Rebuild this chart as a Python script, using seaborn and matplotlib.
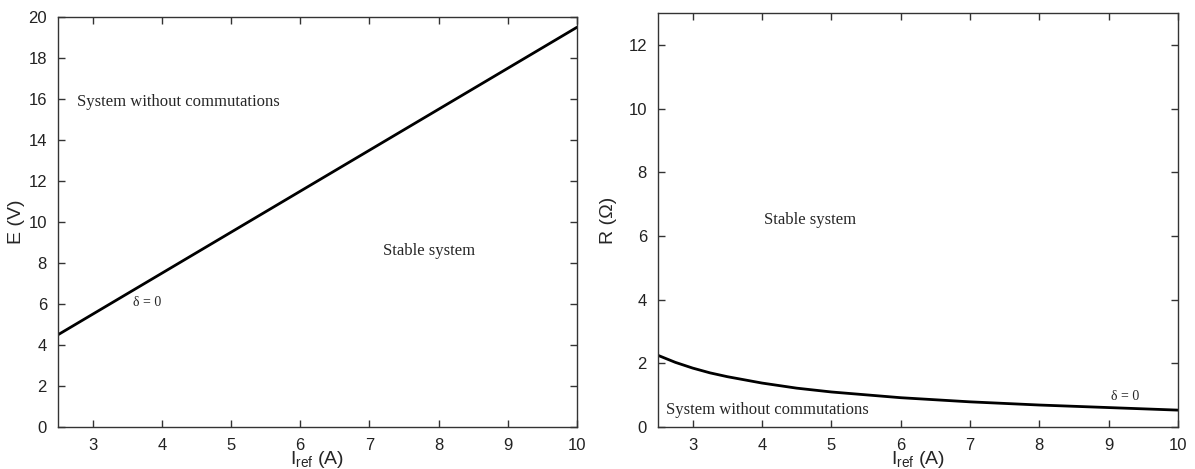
import pandas as pd
import matplotlib.pyplot as plt
import seaborn as sns

sns.set_style("ticks")
plt.rcParams['font.family'] = ['Liberation Sans', 'DejaVu Sans']
plt.rcParams['mathtext.fontset'] = 'custom'
plt.rcParams['mathtext.rm'] = 'Liberation Sans'
plt.rcParams['mathtext.it'] = 'Liberation Sans'

# ---- data ----
i_ref = [2.5, 2.75, 3, 3.25, 3.5, 4, 4.5, 5, 6, 7, 8, 9, 10]
e_volt = [4.5, 5.0, 5.5, 6.0, 6.5, 7.5, 8.5, 9.5, 11.5, 13.5, 15.5, 17.5, 19.5]
r_ohm = [2.25, 2.03, 1.85, 1.70, 1.58, 1.38, 1.22, 1.1, 0.92, 0.79, 0.69, 0.61, 0.53]
x_ticks = [3, 4, 5, 6, 7, 8, 9, 10]
e_ticks = [0, 2, 4, 6, 8, 10, 12, 14, 16, 18, 20]
r_ticks = [0, 2, 4, 6, 8, 10, 12]

df = pd.DataFrame({"I": i_ref, "E": e_volt, "R": r_ohm})

fig = plt.figure(figsize=(11.95, 4.69), dpi=100)
ax1 = fig.add_axes([58/1195, 42/469, 519/1195, 410/469])
ax2 = fig.add_axes([658/1195, 42/469, 520/1195, 414/469])

serif = ['Liberation Serif', 'DejaVu Serif']

# ---- left: E vs I_ref ----
sns.lineplot(data=df, x="I", y="E", ax=ax1, color="black", linewidth=2)
ax1.set_xlim(2.5, 10)
ax1.set_ylim(0, 20)
ax1.set_yticks(e_ticks)
ax1.set_ylabel("E (V)", fontsize=14, labelpad=2)
ax1.text(2.78, 15.85, "System without commutations", family=serif, fontsize=12, va="center")
ax1.text(7.2, 8.6, "Stable system", family=serif, fontsize=12, va="center")
ax1.text(3.59, 6.05, "δ = 0", family=serif, fontsize=10, va="center")

# ---- right: R vs I_ref ----
sns.lineplot(data=df, x="I", y="R", ax=ax2, color="black", linewidth=2)
ax2.set_xlim(2.5, 10)
ax2.set_ylim(0, 13)
ax2.set_yticks(r_ticks)
ax2.set_ylabel("R (Ω)", fontsize=14, labelpad=8)
ax2.text(4.03, 6.5, "Stable system", family=serif, fontsize=12, va="center")
ax2.text(2.62, 0.53, "System without commutations", family=serif, fontsize=12, va="center")
ax2.text(9.04, 0.97, "δ = 0", family=serif, fontsize=10, va="center")

for ax in (ax1, ax2):
    ax.set_xticks(x_ticks)
    ax.set_xlabel(r"$\mathregular{I_{ref}}$ (A)", fontsize=14, labelpad=-3)
    ax.tick_params(direction="in", top=True, right=True, labelsize=12,
                   length=5, width=1, color="#333333", labelcolor="#222222", pad=8)
    for s in ax.spines.values():
        s.set_color("#333333")
        s.set_linewidth(1)

fig.savefig("out.png", dpi=100)
